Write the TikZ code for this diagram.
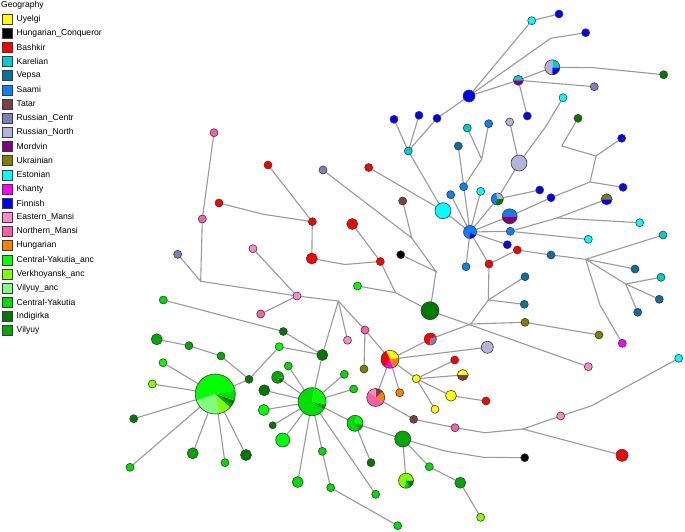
\documentclass[tikz,border=0pt]{standalone}
\usepackage{fontspec}
\setmainfont{Liberation Sans}
\usetikzlibrary{backgrounds}
\definecolor{cUy}{HTML}{FFFF00}
\definecolor{cHC}{HTML}{000000}
\definecolor{cBa}{HTML}{FF0000}
\definecolor{cKa}{HTML}{00CDCD}
\definecolor{cVe}{HTML}{0A70A0}
\definecolor{cSa}{HTML}{0A80FF}
\definecolor{cTa}{HTML}{7F3F3F}
\definecolor{cRC}{HTML}{7F7FBF}
\definecolor{cRN}{HTML}{B4B4DA}
\definecolor{cMo}{HTML}{800080}
\definecolor{cUk}{HTML}{808000}
\definecolor{cEs}{HTML}{00FFFF}
\definecolor{cKh}{HTML}{FF00FF}
\definecolor{cFi}{HTML}{0000FF}
\definecolor{cEM}{HTML}{FF88C8}
\definecolor{cNM}{HTML}{FF5CAA}
\definecolor{cHu}{HTML}{FF8000}
\definecolor{cCYa}{HTML}{00FF00}
\definecolor{cVk}{HTML}{80FF00}
\definecolor{cVa}{HTML}{80FF80}
\definecolor{cCY}{HTML}{00DD00}
\definecolor{cIn}{HTML}{007A00}
\definecolor{cVi}{HTML}{00A800}
\definecolor{nodeborder}{HTML}{3A3A3A}
\definecolor{edgegray}{HTML}{999999}
\newcommand\mknode[5]{\node[nd, fill=#5, minimum size=#4pt] (#1) at (#2,#3) {};}
\newcommand\mkpie[5]{%
  \node[nd, draw=none, minimum size=#4*2pt] (#1) at (#2,#3) {};
  \foreach \a/\b/\c in {#5} {\fill[\c] (#1.center) -- ++(\a:#4pt) arc[start angle=\a, end angle=\b, radius=#4pt] -- cycle;}
  \draw[nodeborder, line width=0.6pt] (#1.center) circle[radius=#4pt];
}
\begin{document}
\begin{tikzpicture}[x=1pt,y=-1pt,
  nd/.style={circle, draw=nodeborder, line width=0.6pt, inner sep=0pt, outer sep=0pt},
  edge/.style={draw=edgegray, line width=1.1pt},
  legbox/.style={rectangle, draw=nodeborder, line width=0.6pt, inner sep=0pt, minimum size=10pt},
  legtext/.style={anchor=west, inner sep=0pt, font=\fontsize{8.6}{10}\selectfont}]
\useasboundingbox (0,0) rectangle (685,532);

% legend
\node[legtext] (legtitle) at (1,5.5) {Geography};
\foreach \c/\t [count=\i from 0] in {cUy/Uyelgi, cHC/Hungarian\_Conqueror, cBa/Bashkir, cKa/Karelian, cVe/Vepsa, cSa/Saami, cTa/Tatar, cRC/Russian\_Centr, cRN/Russian\_North, cMo/Mordvin, cUk/Ukrainian, cEs/Estonian, cKh/Khanty, cFi/Finnish, cEM/Eastern\_Mansi, cNM/Northern\_Mansi, cHu/Hungarian, cCYa/Central-Yakutia\_anc, cVk/Verkhoyansk\_anc, cVa/Vilyuy\_anc, cCY/Central-Yakutia, cIn/Indigirka, cVi/Vilyuy}{
  \node[legbox, fill=\c] (leg\i) at (7.7,{19+14.17*\i}) {};
  \node[legtext] (legt\i) at (16.5,{19+14.17*\i}) {\t};
}

% top region
\mknode{f1}{559}{14}{8}{cFi}
\mknode{e1}{531.7}{20.7}{8}{cEs}
\mknode{f2}{585.7}{32.7}{8}{cFi}
\coordinate (bf2) at (550.7,38.3);
\mkpie{pRN}{552.3}{67.3}{7.5}{90/270/cRN,270/360/cFi,0/90/cKa}
\mkpie{pKM}{518.3}{80.3}{5}{0/180/cKa,180/360/cMo}
\mknode{rc1}{594.3}{86.7}{8}{cRC}
\mknode{i1}{663.7}{74.7}{8}{cIn}
\coordinate (bi1) at (593.3,67.7);
\mknode{F0}{469}{96}{12}{cFi}
\mknode{e2}{563}{97.7}{8}{cEs}
\mknode{f3}{527.3}{116}{8}{cFi}
\mknode{f4}{394}{119.3}{8}{cFi}
\mknode{f5}{419}{115.3}{8}{cFi}
\mknode{f6}{437}{118.3}{8}{cFi}
\mknode{k1}{408.3}{151}{8}{cKa}
\mknode{k2}{467.3}{128}{8}{cKa}
\mknode{s1}{488.7}{123.7}{8}{cSa}
\mknode{rn1}{509.7}{122}{8}{cRN}
\mknode{v1}{458.3}{146}{8}{cVe}
\mknode{RN0}{519}{163}{16}{cRN}
\coordinate (brn) at (545.7,126.7);
\mknode{i2}{578}{118.3}{8}{cIn}
\mknode{f7}{621.7}{138.3}{8}{cFi}
\coordinate (bi2a) at (561.7,146);
\coordinate (bi2b) at (596,156);
\coordinate (bks) at (481.7,159.3);

% middle region
\mknode{rc2}{323}{170}{8}{cRC}
\mknode{b1}{368.7}{167.5}{8}{cBa}
\mknode{s2}{463.7}{186.7}{8}{cSa}
\mknode{s3}{450.7}{194.7}{8}{cSa}
\mknode{e3}{480.7}{191.3}{8}{cEs}
\mkpie{pSRI}{497.3}{199}{6}{0/100/cRN,100/250/cSa,250/360/cIn}
\mknode{f8}{539.7}{190}{8}{cFi}
\mknode{f9}{551}{197.7}{8}{cFi}
\mknode{f10}{623}{187.3}{8}{cFi}
\coordinate (bf10) at (590,182);
\mkpie{pUF}{606.7}{199.3}{5.5}{0/180/cUk,180/360/cFi}
\mkpie{pSM}{509.7}{216.3}{7.5}{0/180/cSa,180/360/cMo}
\mknode{E0}{443}{210.7}{16}{cEs}
\mknode{t1}{402.7}{201}{8}{cTa}
\mkpie{S0}{470}{232}{6.5}{0/270/cSa,270/330/cFi,330/360/cSa}
\mknode{s4}{510.3}{231.3}{8}{cSa}
\coordinate (bs4) at (557,218);
\mknode{e4}{639.7}{222.7}{8}{cEs}
\mknode{e5}{588.3}{239.3}{8}{cEs}
\mknode{k3}{663}{235}{8}{cKa}
\mknode{f11}{507.3}{244.7}{8}{cFi}
\mknode{b2}{517.3}{250}{8}{cBa}
\mknode{v2}{551}{255}{8}{cVe}
\coordinate (bv2) at (585.7,259.3);
\mknode{s5}{466}{266.7}{8}{cSa}
\mknode{b3}{489}{264}{8}{cBa}
\mknode{v3}{635}{269}{8}{cVe}
\coordinate (bv3) at (625.7,284);
\mknode{k4}{661}{277.3}{8}{cKa}
\mknode{v4}{659.3}{299.3}{8}{cVe}
\mknode{v5}{637.7}{312.3}{8}{cVe}
\coordinate (bkh) at (600,305);
\mknode{kh}{622.3}{343.3}{8}{cKh}
\mknode{v6}{525}{276.7}{8}{cVe}
\coordinate (bb3) at (488.3,300);
\mknode{v7}{524.3}{304.3}{8}{cVe}
\coordinate (bu) at (470.7,324);
\mknode{u1}{525}{322.3}{8}{cUk}
\mknode{u2}{599}{335}{8}{cUk}
\mkpie{pBRC}{430.3}{339}{6}{20/270/cBa,270/380/cRC}
\mknode{rn2}{487.3}{347.3}{12}{cRN}
\mknode{I0}{430}{310.7}{18}{cIn}
\coordinate (bt) at (411.7,238);
\coordinate (bhc) at (436,271.5);
\mknode{hc1}{400.7}{254.7}{8}{cHC}
\coordinate (bcy) at (395.5,292.7);
\mknode{cya1}{357.5}{286}{8}{cCYa}
\mknode{b4}{312.3}{221.7}{8}{cBa}
\mknode{B5}{311.8}{258.5}{11}{cBa}
\mknode{B6}{352.3}{224}{11}{cBa}
\mknode{b7}{380.3}{261.5}{8}{cBa}
\coordinate (bb5) at (345,264.5);
\mknode{b8}{268}{165}{8}{cBa}
\mknode{b9}{219}{203}{8}{cBa}
\coordinate (bb9) at (263.3,214.3);
\mknode{nm1}{214}{132.7}{8}{cNM}
\mknode{nm2}{202.3}{219}{8}{cNM}
\mknode{rc3}{177.7}{254.3}{8}{cRC}
\coordinate (bnm) at (200.7,281.3);
\mknode{em1}{253}{248.7}{8}{cEM}
\mknode{em2}{297}{296}{8}{cEM}
\mknode{nm3}{260.7}{314}{8}{cNM}
\coordinate (bem) at (338.3,301);
\mknode{em3}{347.5}{340.2}{8}{cEM}
\mknode{nm4}{365}{330}{8}{cNM}
\mknode{u3}{364}{369}{8}{cUk}
\mkpie{pUHBK}{390}{359.3}{9}{10/115/cUy,115/240/cBa,240/290/cKh,290/370/cHu}
\mknode{cy1}{163.3}{300}{8}{cCY}
\mknode{i3}{283.3}{331.5}{8}{cIn}
\mknode{I4}{322.3}{355}{11}{cIn}
\mknode{cya2}{279.2}{346.7}{8}{cCYa}

% lower left
\mknode{V1}{156.7}{339.3}{11}{cVi}
\mknode{vy2}{189}{345.7}{8}{cVi}
\mknode{vy3}{221}{356}{8}{cVi}
\mknode{i5}{249}{379.3}{8}{cIn}
\mknode{cya3}{163}{362.7}{8}{cCYa}
\mknode{vk1}{152.3}{384}{8}{cVk}
\mkpie{HUGE}{215.3}{394}{20}{10/199/cCYa,199/282/cVa,282/318/cVk,318/330/cVi,330/342/cIn,342/370/cCY}
\mknode{i6}{133.7}{418.7}{8}{cIn}
\mknode{cy2}{130}{467.3}{8}{cCY}
\mknode{V2}{192.7}{453.3}{11}{cVi}
\mknode{cy3}{225}{462.7}{8}{cCY}
\mknode{I7}{246}{455}{11}{cIn}
\mknode{vy4}{288.3}{366}{8}{cCY}
\mkpie{pVI}{277.7}{377.3}{6}{0/290/cVi,290/345/cIn,345/360/cVi}
\mknode{I8}{264.3}{390.3}{11}{cIn}
\mknode{CYA4}{263.7}{410}{11}{cCYa}
\mknode{i9}{272.7}{425.3}{7}{cIn}
\mknode{CYA5}{282.7}{440}{14}{cCYa}
\mkpie{BIGCY}{312}{401.7}{14}{80/330/cCY,330/342/cIn,342/350/cVi,350/440/cCYa}
\mknode{cy4}{344.3}{374.3}{8}{cCY}
\mknode{cy5}{353.7}{389}{8}{cCY}
\mkpie{pVil}{355}{423.3}{8}{-10/80/cCYa,80/300/cCY,300/350/cVi}
\mknode{cy6}{322.3}{451.3}{8}{cCY}
\mknode{CY7}{297.7}{482}{11}{cCY}
\mknode{cy8}{330.7}{487.7}{8}{cCY}
\mknode{cy9}{375.7}{494.3}{8}{cCY}
\mknode{cy10}{397.7}{525.7}{8}{cCY}
\mknode{i10}{371}{462.7}{8}{cIn}
\mknode{V3}{402.7}{439}{16}{cVi}
\mkpie{pVk}{406}{480.7}{7.5}{0/260/cVk,260/300/cCY,300/360/cIn}
\mknode{cy11}{429.3}{466.7}{8}{cCY}
\mknode{vy5}{460.3}{482.7}{11}{cVi}
\mknode{vk2}{480.7}{517.3}{8}{cVk}
\mknode{hc2}{524.7}{457.7}{8}{cHC}
\coordinate (bhc2a) at (445,451);
\coordinate (bhc2b) at (483.3,457.3);

% lower right
\mknode{y1}{416.3}{378.7}{8}{cUy}
\mknode{b10}{454.7}{360}{8}{cBa}
\mkpie{pYT}{462.7}{375}{5.5}{0/180/cUy,180/360/cTa}
\mknode{Y2}{451}{395.7}{11}{cUy}
\mknode{b11}{486}{401}{8}{cBa}
\mknode{y3}{435}{409.3}{8}{cUy}
\mknode{h1}{399.7}{392.7}{8}{cHu}
\mkpie{pEN}{375.7}{397.5}{9}{140/330/cNM,330/400/cHu,40/90/cTa,90/140/cEM}
\mknode{t2}{413.7}{419.3}{8}{cTa}
\mknode{nm5}{455}{427.7}{8}{cNM}
\coordinate (br1) at (485,432.7);
\coordinate (br2) at (522.7,429);
\mknode{em4}{560.7}{416}{8}{cEM}
\coordinate (br3) at (591.7,405.7);
\mknode{e6}{678.7}{358.3}{8}{cEs}
\mknode{B12}{622}{455.3}{12}{cBa}
\mknode{em5}{588.3}{366.7}{8}{cEM}

\begin{pgfonlayer}{background}
\draw[edge] (F0) -- (e1) -- (f1);
\draw[edge] (F0) -- (bf2) -- (f2);
\draw[edge] (F0) -- (pKM) -- (pRN) -- (bi1) -- (i1);
\draw[edge] (pKM) -- (rc1);
\draw[edge] (pKM) -- (f3);
\draw[edge] (F0) -- (f6) -- (k1) -- (f4);
\draw[edge] (k1) -- (f5);
\draw[edge] (k1) -- (E0);
\draw[edge] (k2) -- (bks) -- (s1);
\draw[edge] (bks) -- (s2);
\draw[edge] (v1) -- (s2) -- (S0);
\draw[edge] (rn1) -- (RN0) -- (brn) -- (e2);
\draw[edge] (RN0) -- (pSRI);
\draw[edge] (i2) -- (bi2a) -- (bi2b) -- (f7);
\draw[edge] (bi2b) -- (bf10) -- (f10);
\draw[edge] (bf10) -- (f9) -- (pSM) -- (S0);
\draw[edge] (pSRI) -- (S0);
\draw[edge] (pSRI) -- (f8);
\draw[edge] (b1) -- (E0) -- (S0);
\draw[edge] (S0) -- (s3);
\draw[edge] (S0) -- (e3);
\draw[edge] (S0) -- (s4) -- (bs4) -- (pUF);
\draw[edge] (bs4) -- (e4);
\draw[edge] (s4) -- (e5);
\draw[edge] (S0) -- (f11);
\draw[edge] (S0) -- (b3);
\draw[edge] (S0) -- (s5);
\draw[edge] (b3) -- (b2) -- (v2) -- (bv2) -- (k3);
\draw[edge] (bv2) -- (v3);
\draw[edge] (bv2) -- (bv3) -- (k4);
\draw[edge] (bv3) -- (v4);
\draw[edge] (bv3) -- (v5);
\draw[edge] (bv2) -- (bkh) -- (kh);
\draw[edge] (b3) -- (bb3) -- (v6);
\draw[edge] (bb3) -- (v7);
\draw[edge] (bb3) -- (bu) -- (u1) -- (u2);
\draw[edge] (bu) -- (pBRC) -- (pUHBK);
\draw[edge] (rc2) -- (bt) -- (t1);
\draw[edge] (bt) -- (bhc) -- (hc1);
\draw[edge] (bhc) -- (I0);
\draw[edge] (I0) -- (bcy) -- (b7);
\draw[edge] (bcy) -- (cya1);
\draw[edge] (I0) -- (em5);
\draw[edge] (b7) -- (B6);
\draw[edge] (b7) -- (bb5) -- (B5) -- (b4) -- (b8);
\draw[edge] (b4) -- (bb9) -- (b9);
\draw[edge] (nm1) -- (nm2) -- (bnm) -- (rc3);
\draw[edge] (bnm) -- (em2) -- (em1);
\draw[edge] (nm3) -- (em2) -- (bem) -- (em3);
\draw[edge] (bem) -- (nm4) -- (u3);
\draw[edge] (nm4) -- (pUHBK);
\draw[edge] (bem) -- (I4);
\draw[edge] (cy1) -- (i3) -- (I4);
\draw[edge] (cya2) -- (I4) -- (BIGCY);
\draw[edge] (V1) -- (vy2) -- (vy3) -- (i5) -- (HUGE);
\draw[edge] (i5) -- (cya2);
\foreach \n in {cya3,vk1,i6,cy2,V2,cy3,I7} {\draw[edge] (HUGE) -- (\n);}
\foreach \n in {vy4,pVI,I8,CYA4,i9,CYA5,cy4,cy5,pVil,CY7,cy6,cy9} {\draw[edge] (BIGCY) -- (\n);}
\draw[edge] (cy6) -- (cy8) -- (cy10);
\draw[edge] (pVil) -- (i10);
\draw[edge] (pVil) -- (V3) -- (bhc2a) -- (bhc2b) -- (hc2);
\draw[edge] (V3) -- (pVk);
\draw[edge] (V3) -- (cy11) -- (vy5) -- (vk2);
\draw[edge] (pUHBK) -- (rn2);
\draw[edge] (pUHBK) -- (y1);
\draw[edge] (pUHBK) -- (h1);
\draw[edge] (pUHBK) -- (pEN);
\draw[edge] (y1) -- (b10);
\draw[edge] (y1) -- (pYT);
\draw[edge] (y1) -- (Y2) -- (b11);
\draw[edge] (y1) -- (y3);
\draw[edge] (pEN) -- (t2) -- (nm5) -- (br1) -- (br2) -- (em4) -- (br3) -- (e6);
\draw[edge] (br2) -- (B12);
\end{pgfonlayer}
\end{tikzpicture}
\end{document}
